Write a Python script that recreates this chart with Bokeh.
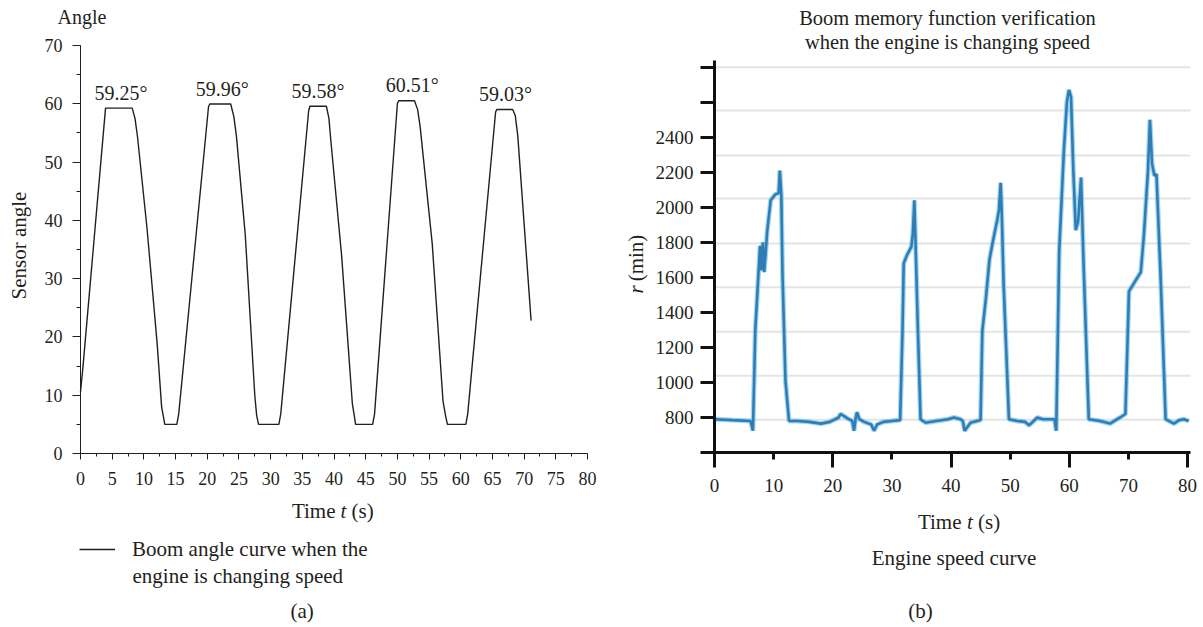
import numpy as np
from bokeh.plotting import figure
from bokeh.models import Range1d, FixedTicker, Label, Legend, LegendItem, LinearAxis
from bokeh.layouts import row
from bokeh.embed import file_html
from bokeh.resources import INLINE
from bokeh.core.properties import value

FONT = "Liberation Serif"
INK = "#231f20"

# ---------------- data: panel (a) boom angle ----------------
angle_time = [0.0, 0.4, 3.95, 8.16, 8.6, 9.0, 10.5, 12.1, 12.8, 13.3, 15.2, 15.5, 20.2, 20.4,
              23.7, 24.2, 24.6, 26.0, 27.5, 27.8, 28.1, 31.3, 31.6, 36.0, 36.2,
              38.8, 39.2, 39.5, 41.2, 42.9, 43.2, 43.4, 46.1, 46.4, 50.0, 50.2,
              52.7, 53.2, 53.6, 55.5, 57.2, 57.6, 57.9, 60.8, 61.1, 65.5, 65.7,
              68.2, 68.6, 69.0, 71.1]
angle_deg = [10.5, 15.0, 59.25, 59.25, 57.5, 54.3, 38.6, 18.8, 8.0, 5.0, 5.0, 6.8, 59.5, 59.96,
             59.96, 57.8, 54.5, 37.5, 10.0, 6.5, 5.0, 5.0, 6.8, 58.8, 59.58,
             59.58, 57.5, 53.7, 34.0, 8.5, 6.5, 5.0, 5.0, 6.8, 60.0, 60.51,
             60.51, 59.0, 56.0, 36.0, 9.0, 6.5, 5.0, 5.0, 6.8, 58.6, 59.03,
             59.03, 58.0, 54.5, 22.8]
peak_time = [6.39, 22.36, 37.48, 52.34, 67.06]
peak_value = [59.25, 59.96, 59.58, 60.51, 59.03]
peak_text = ["59.25°", "59.96°", "59.58°", "60.51°", "59.03°"]
a_x_ticks = list(range(0, 81, 5))
a_y_ticks = list(range(0, 71, 10))

# ---------------- data: panel (b) engine speed ----------------
speed_time = [0.0, 3.0, 6.1, 6.5, 6.9, 7.4, 7.7, 7.9, 8.2, 8.4, 8.7, 8.9, 9.5, 10.3, 10.85,
              11.05, 11.3, 11.5, 12.0, 12.6, 14.0, 16.0, 18.0, 19.5, 21.0, 21.3, 22.5,
              23.3, 23.6, 23.9, 24.1, 24.5, 25.3, 26.5, 27.0, 27.5, 28.6, 30.0, 31.4,
              31.8, 32.0, 32.6, 33.3, 33.55, 33.8, 34.0, 34.4, 34.85, 35.7, 37.5, 39.5,
              40.5, 41.6, 42.0, 42.3, 43.3, 45.0, 45.3, 45.9, 46.5, 47.0, 47.8, 48.1,
              48.4, 48.6, 48.9, 49.8, 51.2, 52.5, 53.2, 54.6, 55.5, 57.5, 57.8, 58.3,
              59.1, 59.6, 59.95, 60.3, 60.7, 61.1, 61.5, 62.0, 62.4, 63.3, 65.2, 66.9,
              68.6, 69.5, 70.1, 71.0, 72.1, 72.6, 73.3, 73.65, 74.0, 74.4, 74.75, 75.5,
              76.3, 77.7, 78.6, 79.4, 80.2]
speed_rpm = [790, 785, 780, 724, 1300, 1600, 1780, 1640, 1800, 1630, 1760, 1860, 2040, 2075, 2080,
             2210, 2070, 1620, 1010, 780, 780, 775, 765, 775, 800, 820, 795,
             780, 724, 800, 830, 790, 775, 760, 724, 760, 775, 780, 785,
             1300, 1680, 1730, 1775, 1850, 2040, 1800, 1300, 790, 770, 780, 790,
             800, 790, 780, 724, 770, 785, 1295, 1480, 1700, 1790, 1925, 1980,
             2140, 1950, 1560, 790, 780, 775, 755, 800, 790, 790, 724, 1750,
             2330, 2600, 2670, 2630, 2200, 1870, 1920, 2170, 1700, 790, 780, 765,
             800, 820, 1520, 1570, 1630, 1830, 2200, 2500, 2250, 2180, 2190, 1560,
             790, 765, 785, 790, 780]
b_x_ticks = list(range(0, 81, 10))
b_y_ticks = list(range(600, 2801, 200))
b_grid_rpm = [787, 1038, 1290, 1543, 1794, 2050, 2296, 2553, 2800]

H = 625          # canvas height of both panels
WA, WB = 600, 600
TXT = "21px"


def make_lab(p, left):
    def lab(text, px, py, size=TXT, align="center", style="normal", angle=0.0):
        p.add_layout(Label(x=px - left, y=H - py, x_units="screen", y_units="screen",
                           text=text, text_font=FONT, text_font_size=size,
                           text_color=INK, text_font_style=style, text_align=align,
                           text_baseline="middle", angle=angle))
    return lab


def style_axis(ax, color, width, size):
    ax.axis_line_color = color
    ax.axis_line_width = width
    ax.major_tick_line_color = color
    ax.minor_tick_line_color = color
    ax.major_tick_line_width = width
    ax.minor_tick_line_width = width
    ax.major_tick_in = 0
    ax.minor_tick_in = 0
    ax.major_label_text_font = FONT
    ax.major_label_text_font_size = size
    ax.major_label_text_color = INK


# ================= panel (a) =================
# frame covers the whole canvas; data box: x 0..80 -> px 80..587, y 0..70 -> px 453..45
sxa = 507 / 80.0
sya = 408 / 70.0
pa = figure(width=WA, height=H,
            x_range=Range1d(-80 / sxa, (WA - 80) / sxa),
            y_range=Range1d(-(H - 453) / sya, 70 + 45 / sya),
            output_backend="svg", toolbar_location=None,
            x_axis_location=None, y_axis_location=None, min_border=0)
pa.outline_line_color = None
pa.grid.visible = False

xa = LinearAxis(fixed_location=0, bounds=(0, 80),
                ticker=FixedTicker(ticks=a_x_ticks, minor_ticks=[i * 2.5 for i in range(33)]))
ya = LinearAxis(fixed_location=0, bounds=(0, 70),
                ticker=FixedTicker(ticks=a_y_ticks, minor_ticks=list(range(0, 71, 5))))
for ax in (xa, ya):
    style_axis(ax, INK, 1, "18px")
xa.major_tick_out = 6
xa.minor_tick_out = 3
xa.major_label_standoff = 12
ya.major_tick_out = 8
ya.minor_tick_out = 4
ya.major_label_standoff = 10
pa.add_layout(xa, "below")
pa.add_layout(ya, "left")

line_a = pa.line(angle_time, angle_deg, line_color=INK, line_width=1.4)
pa.text(x=peak_time, y=peak_value, text=peak_text, text_font=value(FONT),
        text_font_size="20px", text_color=INK, text_align="center",
        text_baseline="middle", y_offset=-15.5)

legend = Legend(items=[LegendItem(label="Boom angle curve when the", renderers=[line_a])],
                location=(79, H - 561.5), glyph_width=36, glyph_height=20, label_height=20,
                label_standoff=17, padding=0, margin=0, spacing=0,
                border_line_alpha=0, background_fill_alpha=0,
                label_text_font=FONT, label_text_font_size=TXT, label_text_color=INK)
pa.add_layout(legend)

la = make_lab(pa, 0)
la("Angle", 57, 16, size="20px", align="left")
la("Sensor angle", 18, 245, angle=np.pi / 2)
la("Time", 335, 510, align="right")
la("t", 343, 510, style="italic")
la("(s)", 351, 510, align="left")
la("engine is changing speed", 132, 575, align="left")
la("(a)", 301.7, 610)

# ================= panel (b) =================
# data box: x 0..80 -> px 714..1187, y 600..2800 -> px 452..66.7
sxb = 473 / 80.0
syb = 385.3 / 2200.0
pb = figure(width=WB, height=H,
            x_range=Range1d(-114 / sxb, (WB - 114) / sxb),
            y_range=Range1d(600 - (H - 452) / syb, 2800 + 66.7 / syb),
            output_backend="svg", toolbar_location=None,
            x_axis_location=None, y_axis_location=None, min_border=0)
pb.outline_line_color = None
pb.grid.visible = False

pb.segment(x0=0, x1=80.5, y0=b_grid_rpm, y1=b_grid_rpm, line_color="#e4e4e4", line_width=2)

xb = LinearAxis(fixed_location=600, bounds=(0, 80.5),
                ticker=FixedTicker(ticks=b_x_ticks, minor_ticks=[0, 20, 40, 60, 80]))
yb = LinearAxis(fixed_location=0, bounds=(600, 2838),
                ticker=FixedTicker(ticks=b_y_ticks, minor_ticks=[]))
yb.major_label_overrides = {600: "", 2600: "", 2800: ""}
for ax in (xb, yb):
    style_axis(ax, "#111111", 3, "19px")
xb.major_tick_out = 7
xb.minor_tick_out = 15
xb.major_label_standoff = 11
yb.major_tick_out = 14
yb.minor_tick_out = 0
yb.major_label_standoff = 7
pb.add_layout(xb, "below")
pb.add_layout(yb, "left")

pb.line(speed_time, speed_rpm, line_color="#5ab4e6", line_width=5, line_alpha=0.55)
pb.line(speed_time, speed_rpm, line_color="#2f7db4", line_width=2.6)

lb = make_lab(pb, 600)
lb("Boom memory function verification", 947, 17, size="20.5px")
lb("when the engine is changing speed", 947, 41, size="20.5px")
lb("(min)", 635, 257.5, angle=np.pi / 2)
lb("r", 635, 289, style="italic", angle=np.pi / 2)
lb("Time", 961, 521, align="right")
lb("t", 969.5, 521, style="italic")
lb("(s)", 977.5, 521, align="left")
lb("Engine speed curve", 953.5, 557)
lb("(b)", 920, 610)

layout = row(pa, pb)
open("out.html", "w").write(file_html(layout, INLINE))
